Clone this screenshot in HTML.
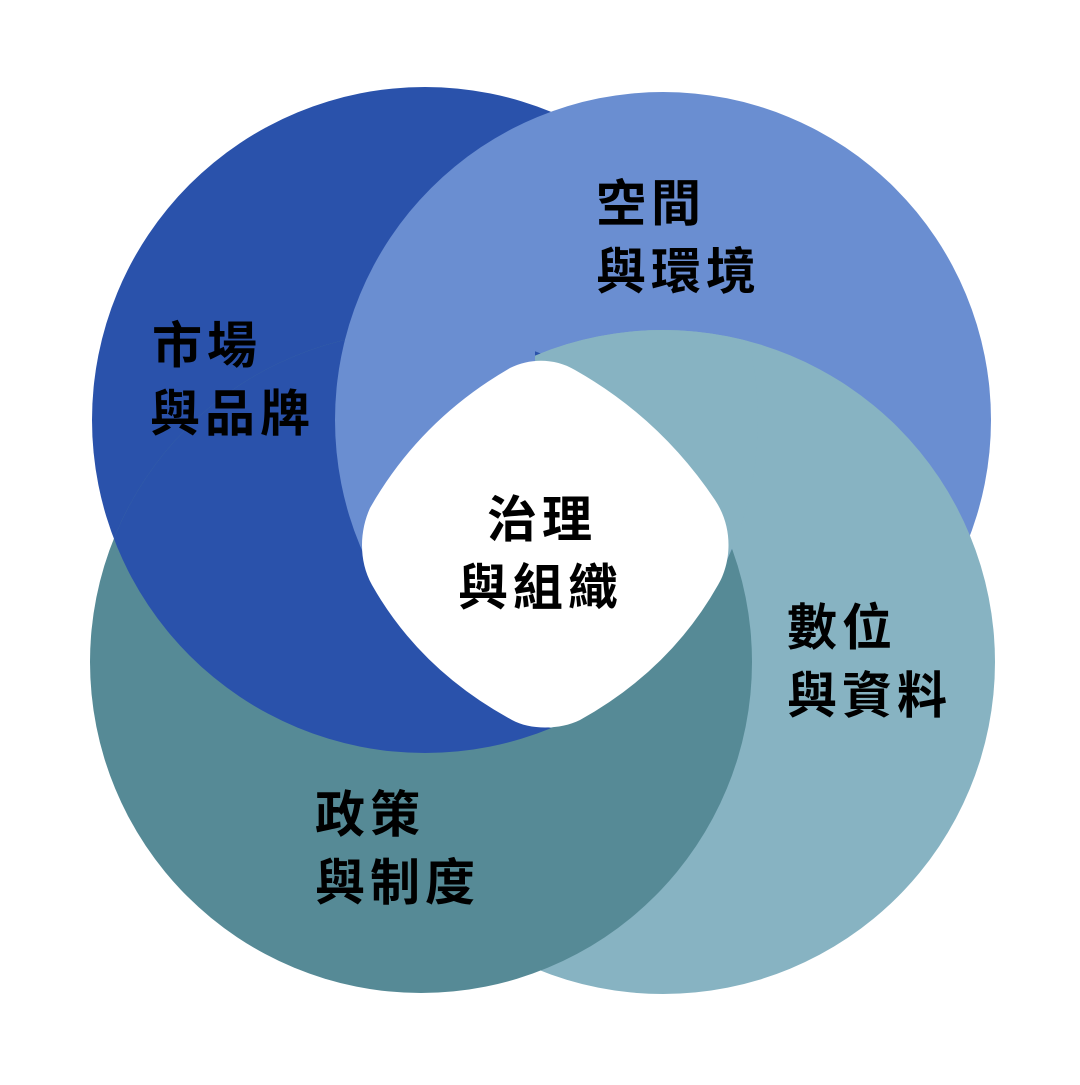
<!DOCTYPE html>
<html><head><meta charset="utf-8"><style>
html,body{margin:0;padding:0;background:#fff;}
svg text{font-family:"Liberation Sans","Noto Sans CJK TC",sans-serif;font-weight:bold;font-size:50px;fill:#000;letter-spacing:5px;}
</style></head><body>
<svg width="1080" height="1080" viewBox="0 0 1080 1080" xmlns="http://www.w3.org/2000/svg">
<defs>
<clipPath id="cDT"><circle cx="421" cy="662" r="331"/></clipPath>
<clipPath id="cDT2"><circle cx="421" cy="662" r="332"/></clipPath>
<clipPath id="cDB"><circle cx="425" cy="420" r="333"/></clipPath>
<clipPath id="cLB"><circle cx="663" cy="420" r="328"/></clipPath>
<clipPath id="cL"><rect x="0" y="0" width="535" height="1080"/></clipPath>
<clipPath id="cR"><rect x="535" y="0" width="545" height="1080"/></clipPath>
</defs>
<rect width="1080" height="1080" fill="#fff"/>
<circle cx="425" cy="420" r="333" fill="#2a52ab"/>
<circle cx="663" cy="420" r="328" fill="#6a8ed1"/>
<circle cx="663" cy="662" r="332" fill="#87b3c2"/>
<circle cx="421" cy="662" r="331" fill="#568a96"/>
<g clip-path="url(#cDT)"><circle cx="425" cy="420" r="333" fill="#2a52ab"/></g>
<g clip-path="url(#cL)"><g clip-path="url(#cDT2)"><g clip-path="url(#cDB)"><circle cx="663" cy="420" r="328" fill="#6a8ed1"/></g></g></g>
<g clip-path="url(#cR)"><g clip-path="url(#cLB)"><g clip-path="url(#cDB)"><circle cx="663" cy="662" r="332" fill="#87b3c2"/></g></g></g>
<path d="M510,368 C530,358 555,358 575,370 Q660,418 715,500 C735,530 730,565 718,585 Q670,670 580,720 C560,730 530,730 512,720 Q420,670 372,585 C358,560 360,530 370,508 Q420,420 510,368 Z" fill="#fff"/>
<text x="152" y="363">市場</text>
<text x="150" y="431">與品牌</text>
<text x="596" y="221">空間</text>
<text x="596" y="289">與環境</text>
<text x="487" y="537">治理</text>
<text x="458" y="605">與組織</text>
<text x="787" y="645">數位</text>
<text x="787" y="713">與資料</text>
<text x="315" y="832">政策</text>
<text x="315" y="900">與制度</text>
</svg>
</body></html>
